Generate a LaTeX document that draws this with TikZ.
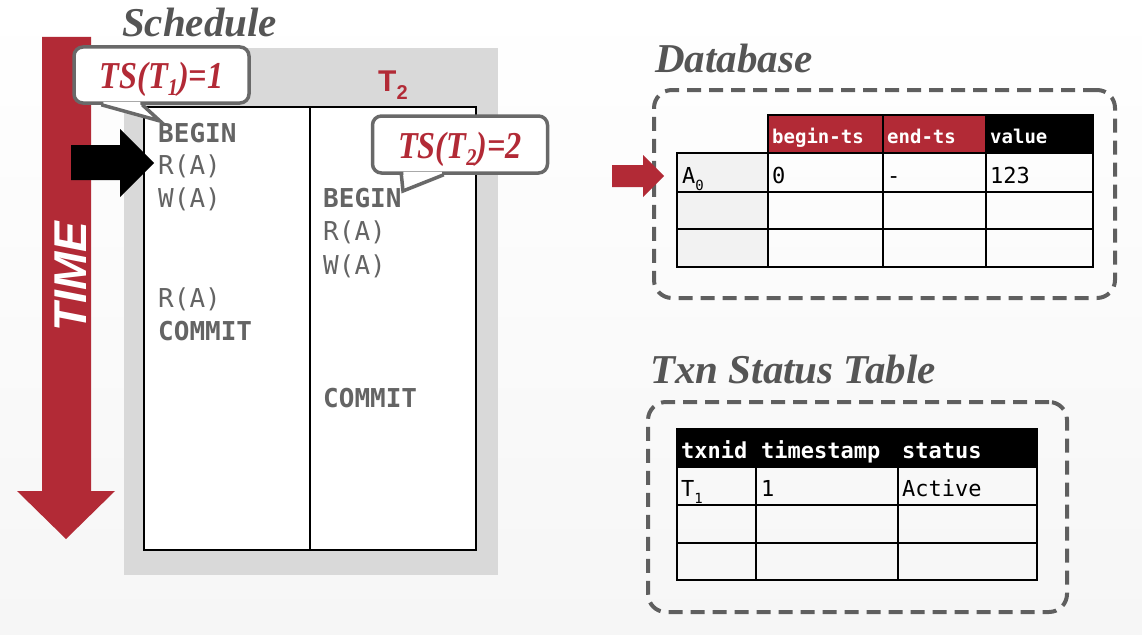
\documentclass[tikz,border=0pt]{standalone}
\usepackage{fontspec}
\setmainfont{Liberation Serif}
\newfontfamily\dmono{DejaVu Sans Mono}
\newfontfamily\lsans{Liberation Sans}
\usepackage{graphicx}
\usetikzlibrary{calc}
\definecolor{cmured}{RGB}{178,42,54}
\definecolor{txtgray}{RGB}{100,100,100}
\definecolor{boxgray}{RGB}{217,217,217}
\definecolor{dashgray}{RGB}{95,95,95}
\definecolor{cellgray}{RGB}{242,242,242}
\definecolor{titlegray}{RGB}{85,85,85}
\definecolor{callgray}{RGB}{105,105,105}
\definecolor{bgbottom}{RGB}{246,246,246}
\newcommand\lowsub[3]{\raisebox{-#2}{\fontsize{#1}{#1}\selectfont #3}}
\begin{document}
\begin{tikzpicture}[x=1pt,y=-1pt,
  title/.style={anchor=base west, inner sep=0, text=titlegray, font=\fontsize{41}{41}\selectfont\bfseries\itshape},
  op/.style={anchor=base west, inner sep=0, text=txtgray, font=\dmono\fontsize{26}{26}\selectfont},
  opb/.style={anchor=base west, inner sep=0, text=txtgray, font=\dmono\bfseries\fontsize{26}{26}\selectfont},
  callbox/.style={draw=callgray, line width=3.5pt, fill=white, rounded corners=9pt, inner sep=0},
  calltext/.style={anchor=base, inner sep=0, text=cmured, font=\fontsize{38}{38}\selectfont\bfseries\itshape},
  dashbox/.style={draw=dashgray, line width=4pt, dash pattern=on 14pt off 8pt, rounded corners=18pt, inner sep=0},
  dbhead/.style={anchor=base west, inner sep=0, text=white, font=\dmono\bfseries\fontsize{19}{19}\selectfont},
  txhead/.style={anchor=base west, inner sep=0, text=white, font=\dmono\bfseries\fontsize{22}{22}\selectfont},
  cellt/.style={anchor=base west, inner sep=0, text=black, font=\dmono\fontsize{22}{22}\selectfont},
  grid/.style={draw=black, line width=2.5pt}
]
\useasboundingbox (0,0) rectangle (1142,634);
\shade[top color=white, bottom color=bgbottom] (0,0) rectangle (1142,634);

% ---------- TIME arrow ----------
\fill[cmured] (42,37) -- (91,37) -- (91,491) -- (115,491) -- (66,539) -- (17,491) -- (42,491) -- cycle;
\node[anchor=base, inner sep=0, rotate=90, text=white, font=\lsans\bfseries\itshape\fontsize{46}{46}\selectfont] (time) at (86,276.5) {TIME};

% ---------- Schedule ----------
\node[title] (schedtitle) at (122,37) {Schedule};
\node[fill=boxgray, minimum width=374pt, minimum height=527pt, inner sep=0] (schedbg) at (311,311.5) {};
\node[fill=white, draw=black, line width=1.5pt, minimum width=332pt, minimum height=443pt, inner sep=0] (inner) at (310,328.5) {};
\draw[black, line width=1.5pt] (inner.north) -- (inner.south);

\node[anchor=base west, inner sep=0, text=cmured, font=\lsans\bfseries\fontsize{30}{30}\selectfont] (t2lbl) at (378,92) {T\lowsub{20}{8pt}{2}};

\node[opb] (b1) at (158,142) {BEGIN};
\node[op]  (r1) at (158,174) {R(A)};
\node[op]  (w1) at (158,207) {W(A)};
\node[op]  (r1b) at (158,307) {R(A)};
\node[opb] (c1op) at (158,340) {COMMIT};

\node[opb] (b2) at (323,207) {BEGIN};
\node[op]  (r2) at (323,240) {R(A)};
\node[op]  (w2) at (323,274) {W(A)};
\node[opb] (c2op) at (323,407) {COMMIT};

% black pointer arrow
\fill[black] (71,145) -- (120,145) -- (120,129) -- (154,163) -- (120,197) -- (120,180) -- (71,180) -- cycle;

% callout 1
\node[callbox, minimum width=175pt, minimum height=56pt] (call1) at (161.5,75) {};
\coordinate (tip1) at (160,121);
\fill[white] ($(call1.south west)+(31,-3)$) -- ($(call1.south west)+(31,0)$) -- (tip1) -- ($(call1.south west)+(68,0)$) -- ($(call1.south west)+(68,-3)$) -- cycle;
\draw[callgray, line width=3.5pt, line join=miter] ($(call1.south west)+(29,0)$) -- (tip1) -- ($(call1.south west)+(70,0)$);
\node[calltext] (ts1) at (161.5,88) {\scalebox{0.85}[1]{TS(T\lowsub{24}{7pt}{1})=1}};

% callout 2
\node[callbox, minimum width=175pt, minimum height=57pt] (call2) at (460,144.5) {};
\coordinate (tip2) at (403,191);
\fill[white] ($(call2.south west)+(32.5,-3)$) -- ($(call2.south west)+(32.5,0)$) -- (tip2) -- ($(call2.south west)+(71,0)$) -- ($(call2.south west)+(71,-3)$) -- cycle;
\draw[callgray, line width=3.5pt, line join=miter] ($(call2.south west)+(30.5,-1)$) -- (tip2) -- ($(call2.south west)+(73,0)$);
\node[calltext] (ts2) at (460,158) {\scalebox{0.85}[1]{TS(T\lowsub{24}{7pt}{2})=2}};

% ---------- Database ----------
\node[title] (dbtitle) at (655,72) {Database};
\node[dashbox, minimum width=461pt, minimum height=208pt] (dbbox) at (884.5,194) {};
\fill[cmured] (612,165) -- (643,165) -- (643,155) -- (664,176) -- (643,197) -- (643,187) -- (612,187) -- cycle;

\fill[cmured] (768,115) rectangle (986,153);
\fill[black] (986,115) rectangle (1093,153);
\fill[cellgray] (677,153) rectangle (768,267);
\draw[grid] (768,115) rectangle (1093,153);
\draw[grid] (677,153) rectangle (1093,267);
\draw[grid] (768,115) -- (768,267);
\draw[grid] (883,115) -- (883,267);
\draw[grid] (986,115) -- (986,267);
\draw[grid] (677,192) -- (1093,192);
\draw[grid] (677,229) -- (1093,229);

\node[dbhead] (hbeg) at (772,143) {begin-ts};
\node[dbhead] (hend) at (887,143) {end-ts};
\node[dbhead] (hval) at (990,143) {value};
\node[cellt] (a0) at (682,183) {A\lowsub{14}{7pt}{0}};
\node[cellt] (v0) at (772,183) {0};
\node[cellt] (v1) at (887,183) {-};
\node[cellt] (v2) at (990,183) {123};

% ---------- Txn Status Table ----------
\node[title] (txtitle) at (650,383) {Txn Status Table};
\node[dashbox, minimum width=419pt, minimum height=210pt] (txbox) at (857.5,507) {};

\fill[black] (677,429) rectangle (1037,467);
\draw[grid] (677,429) rectangle (1037,580);
\draw[grid] (756,467) -- (756,580);
\draw[grid] (898,467) -- (898,580);
\draw[grid] (677,467) -- (1037,467);
\draw[grid] (677,505) -- (1037,505);
\draw[grid] (677,543) -- (1037,543);

\node[txhead] (htx) at (681,458) {txnid};
\node[txhead] (hts) at (761,458) {timestamp};
\node[txhead] (hst) at (902,458) {status};
\node[cellt] (tx1) at (681,496) {T\lowsub{14}{7pt}{1}};
\node[cellt] (ts1v) at (761,496) {1};
\node[cellt] (st1) at (902,496) {Active};
\end{tikzpicture}
\end{document}
